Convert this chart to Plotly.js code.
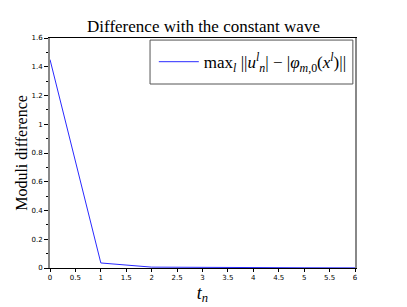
<!DOCTYPE html>
<html><head><meta charset="utf-8">
<script src="https://cdn.plot.ly/plotly-3.0.1.min.js"></script>
<style>body{margin:0;padding:0;background:#fff}#c{width:407px;height:307px}</style>
</head><body><div id="c"></div>
<script>
const tValues = [0, 1, 2, 3, 4, 5, 6];
const diffValues = [1.45, 0.035, 0.006, 0.003, 0.002, 0.0015, 0.001];
const xTickVals = [0, 0.5, 1, 1.5, 2, 2.5, 3, 3.5, 4, 4.5, 5, 5.5, 6];
const yTickVals = [0, 0.2, 0.4, 0.6, 0.8, 1, 1.2, 1.4, 1.6];
const seriesName = "max<sub><i>l</i></sub> ||<i>u</i><sup><i>l</i></sup><sub><i>n</i></sub>| − |<i>φ</i><sub><i>m</i>,0</sub>(<i>x</i><sup><i>l</i></sup>)||";

const trace = {
  x: tValues, y: diffValues, type: 'scatter', mode: 'lines',
  line: {color: '#2a2aff', width: 1}, name: seriesName
};
const layout = {
  width: 407, height: 307,
  margin: {l: 50, r: 52, t: 38, b: 39},
  paper_bgcolor: '#fff', plot_bgcolor: '#fff',
  showlegend: true,
  title: {text: 'Difference with the constant wave', x: 0.5, xanchor: 'center', y: 0.915, yanchor: 'middle',
    font: {family: 'Liberation Serif, serif', size: 17, color: '#000'}},
  xaxis: {range: [0, 6], tickvals: xTickVals, ticktext: xTickVals.map(String),
    showgrid: false, zeroline: false, showline: true, linecolor: '#000', linewidth: 1, mirror: true,
    ticks: 'outside', ticklen: 3, tickcolor: '#000',
    tickfont: {family: 'DejaVu Sans, sans-serif', size: 7, color: '#000'},
    title: {text: '<i>t<sub>n</sub></i>', standoff: 4, font: {family: 'Liberation Serif, serif', size: 18, color: '#000'}}},
  yaxis: {range: [0, 1.6], tickvals: yTickVals, ticktext: yTickVals.map(String),
    showgrid: false, zeroline: false, showline: true, linecolor: '#888', linewidth: 2, mirror: true,
    ticks: 'outside', ticklen: 4, tickcolor: '#000',
    minor: {dtick: 0.1, ticks: 'outside', ticklen: 2, tickcolor: '#000'},
    tickfont: {family: 'DejaVu Sans, sans-serif', size: 7, color: '#000'},
    title: {text: 'Moduli difference', standoff: 0, font: {family: 'Liberation Serif, serif', size: 16, color: '#000'}}},
  legend: {x: 0.665, xanchor: 'center', y: 0.895, yanchor: 'middle', bgcolor: 'rgba(0,0,0,0)',
    borderwidth: 0, itemwidth: 40,
    font: {family: 'Liberation Serif, serif', size: 17, color: '#000'}},
  shapes: [{type: 'rect', xref: 'paper', yref: 'paper', x0: 0.328, x1: 0.993, y0: 0.8, y1: 0.991,
    line: {color: '#555', width: 1}, fillcolor: 'rgba(0,0,0,0)', layer: 'above'}]
};
Plotly.newPlot('c', [trace], layout, {displayModeBar: false, staticPlot: true});
</script></body></html>
